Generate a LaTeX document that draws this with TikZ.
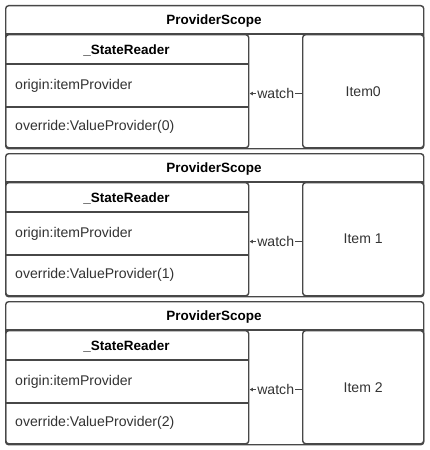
\documentclass[tikz,border=0pt]{standalone}
\usepackage{fontspec}
\setmainfont{Liberation Sans}
\usetikzlibrary{positioning, arrows.meta}

\begin{document}
\begin{tikzpicture}[
    x=0.03cm, y=-0.03cm,
    frame/.style={draw=black!72, line width=1.2pt, rounded corners=2.5pt, anchor=north west, inner sep=0pt},
    outerbox/.style={frame, minimum width=12.54cm, minimum height=4.29cm},
    readerbox/.style={frame, minimum width=7.29cm, minimum height=3.39cm},
    itembox/.style={frame, minimum width=3.63cm, minimum height=3.39cm, font=\fontsize{12}{14}\selectfont, text=black!80},
    divider/.style={draw=black!72, line width=1.2pt},
    title/.style={font=\fontsize{11.5}{13}\selectfont\bfseries},
    field/.style={anchor=west, inner sep=0pt, font=\fontsize{12}{14}\selectfont, text=black!80},
    arrow/.style={draw=black!72, line width=1.2pt, -{Latex[length=3pt, width=3.5pt]}},
    watchlabel/.style={fill=white, inner sep=1pt, font=\fontsize{12}{14}\selectfont, text=black!80}
]

\useasboundingbox[fill=white] (0,0) rectangle (430,450);

\foreach \i/\itemname in {0/Item0, 1/Item 1, 2/Item 2} {
    \pgfmathsetmacro{\oy}{148*\i}

    % Nodes
    \node[outerbox] (scope\i) at (5,5+\oy) {};
    \node[title] (scopetitle\i) at (214,21+\oy) {ProviderScope};
    \draw[divider] ([shift={(0,29)}]scope\i.north west) -- ([shift={(0,29)}]scope\i.north east);

    \node[readerbox] (reader\i) at (5,34+\oy) {};
    \node[itembox] (item\i) at (302,34+\oy) {\itemname};

    % StateReader rows
    \node[title] (readertitle\i) at (126.5,50+\oy) {\_StateReader};
    \draw[divider] ([shift={(0,30)}]reader\i.north west) -- ([shift={(0,30)}]reader\i.north east);
    \draw[divider] ([shift={(0,73)}]reader\i.north west) -- ([shift={(0,73)}]reader\i.north east);
    \node[field] (origin\i) at (15,86+\oy) {origin:itemProvider};
    \node[field] (override\i) at (15,127+\oy) {override:ValueProvider(\i)};

    % watch arrow
    \draw[arrow] ([yshift=-2pt]item\i.west) -- node[watchlabel] {watch} ([yshift=-2pt]reader\i.east);
}

\end{tikzpicture}
\end{document}
